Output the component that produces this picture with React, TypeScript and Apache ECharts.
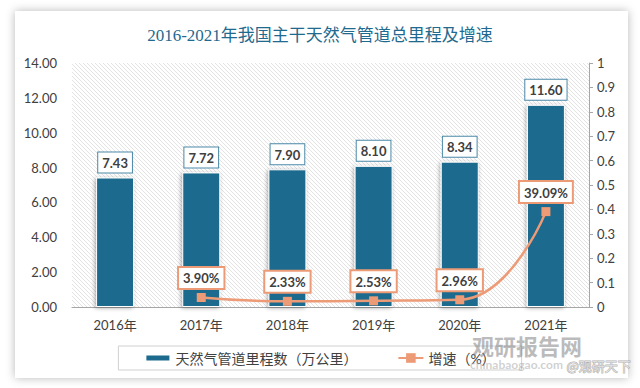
import React, { useEffect, useRef } from "react";
import * as echarts from "echarts";

const years = ["2016年", "2017年", "2018年", "2019年", "2020年", "2021年"];
const mileage = [7.43, 7.72, 7.9, 8.1, 8.34, 11.6];
const growth: (number | null)[] = [null, 0.039, 0.0233, 0.0253, 0.0296, 0.3909];
const barName = "天然气管道里程数（万公里）";
const lineName = "增速（%）";
const titleText = "2016-2021年我国主干天然气管道总里程及增速";

const BAR = "#1C6A8D";
const LINE = "#ED9B76";
const TXT = "#404040";
const FONT = "Lato, 'Noto Sans CJK SC', sans-serif";

function makeHatch() {
  const c = document.createElement("canvas");
  c.width = 4;
  c.height = 4;
  const ctx = c.getContext("2d")!;
  ctx.fillStyle = "#ffffff";
  ctx.fillRect(0, 0, 4, 4);
  ctx.strokeStyle = "#e0e0e0";
  ctx.lineWidth = 0.9;
  for (const k of [-4, 0, 4]) {
    ctx.beginPath();
    ctx.moveTo(k, 0);
    ctx.lineTo(k + 4, 4);
    ctx.stroke();
  }
  return c;
}

export default function App() {
  const ref = useRef<HTMLDivElement>(null);
  useEffect(() => {
    if (!ref.current) return;
    const chart = echarts.init(ref.current, null, { renderer: "svg" });
    const hatch = makeHatch();
    chart.setOption({
      animation: false,
      backgroundColor: "#ffffff",
      textStyle: { fontFamily: FONT },
      title: {
        text: titleText,
        left: "center",
        top: 22,
        textStyle: {
          fontFamily: "'Liberation Serif', 'Noto Sans CJK SC', serif",
          fontSize: 17,
          fontWeight: "normal",
          color: "#1F6A8E",
        },
      },
      graphic: [
        {
          type: "rect",
          z: -10,
          shape: { x: 15, y: 11, width: 613, height: 367 },
          style: { fill: "#ffffff", shadowBlur: 10, shadowColor: "rgba(0,0,0,0.28)" },
          silent: true,
        },
        {
          type: "text",
          z: 100,
          left: 472,
          top: 334,
          style: {
            text: "观研报告网",
            fontSize: 22,
            fontWeight: "bold",
            fill: "rgba(120,120,120,0.5)",
            fontFamily: "'Noto Sans CJK SC', sans-serif",
          },
          silent: true,
        },
        {
          type: "text",
          z: 100,
          left: 470,
          top: 358,
          style: {
            text: "chinabaogao.com",
            fontSize: 12,
            fontWeight: "bold",
            fill: "rgba(150,150,150,0.45)",
            fontFamily: FONT,
          },
          silent: true,
        },
        {
          type: "text",
          z: 100,
          left: 566,
          top: 358,
          style: {
            text: "@观研天下",
            fontSize: 13,
            fill: "rgba(255,255,255,0.6)",
            stroke: "rgba(140,140,140,0.7)",
            lineWidth: 1,
            fontFamily: "'Noto Sans CJK SC', sans-serif",
          },
          silent: true,
        },
      ],
      grid: {
        left: 72,
        right: 51,
        top: 63,
        bottom: 81,
        show: true,
        borderWidth: 0,
        backgroundColor: {
          image: hatch,
          repeat: "repeat",
          imageWidth: 4,
          imageHeight: 4,
        },
      },
      legend: {
        left: "center",
        bottom: 18,
        borderColor: "#d0d0d0",
        borderWidth: 1,
        padding: [5, 26],
        itemGap: 40,
        itemWidth: 25,
        itemHeight: 12,
        textStyle: { fontSize: 14, color: TXT, fontFamily: FONT },
        data: [
          { name: barName, icon: "path://M0,0H25V7H0Z" },
          { name: lineName },
        ],
      },
      xAxis: {
        type: "category",
        data: years,
        axisLine: { show: true, lineStyle: { color: "#a6a6a6", width: 1 } },
        axisTick: { show: false },
        axisLabel: { color: TXT, fontSize: 13, margin: 11, fontFamily: FONT },
        splitLine: { show: false },
      },
      yAxis: [
        {
          type: "value",
          min: 0,
          max: 14,
          interval: 2,
          axisLine: { show: false },
          axisTick: { show: false },
          splitLine: { show: false },
          axisLabel: {
            color: TXT,
            fontSize: 13,
            margin: 15,
            fontFamily: FONT,
            formatter: (v: number) => v.toFixed(2),
          },
        },
        {
          type: "value",
          position: "right",
          min: 0,
          max: 1,
          interval: 0.1,
          axisLine: { show: true, lineStyle: { color: "#a6a6a6", width: 1 } },
          axisTick: { show: true, length: 4, lineStyle: { color: "#a6a6a6" } },
          splitLine: { show: false },
          axisLabel: {
            color: TXT,
            fontSize: 13,
            margin: 8,
            fontFamily: FONT,
            formatter: (v: number) => String(+v.toFixed(1)),
          },
        },
      ],
      series: [
        {
          name: barName,
          type: "bar",
          yAxisIndex: 0,
          data: mileage,
          barWidth: 38,
          itemStyle: {
            color: BAR,
            borderColor: "#ffffff",
            borderWidth: 1,
            shadowBlur: 4,
            shadowColor: "rgba(0,0,0,0.35)",
            shadowOffsetX: -1,
            shadowOffsetY: 1,
          },
          label: {
            show: true,
            position: "top",
            distance: 5,
            formatter: (p: any) => Number(p.value).toFixed(2),
            backgroundColor: "#ffffff",
            borderColor: "#4A88A8",
            borderWidth: 1,
            padding: [4, 4, 3, 4],
            fontSize: 13,
            fontWeight: "bold",
            color: TXT,
            fontFamily: FONT,
          },
        },
        {
          name: lineName,
          type: "line",
          yAxisIndex: 1,
          data: growth,
          smooth: 0.5,
          symbol: "rect",
          symbolSize: 9,
          color: LINE,
          lineStyle: { color: LINE, width: 2.5 },
          itemStyle: { color: LINE },
          label: {
            show: true,
            position: "top",
            distance: 5,
            formatter: (p: any) => (Number(p.value) * 100).toFixed(2) + "%",
            backgroundColor: "#ffffff",
            borderColor: LINE,
            borderWidth: 2,
            padding: [4, 4, 3, 4],
            fontSize: 13,
            fontWeight: "bold",
            color: TXT,
            fontFamily: FONT,
          },
        },
      ],
    });
    return () => chart.dispose();
  }, []);
  return (
    <div
      ref={ref}
      style={{ position: "fixed", left: 0, top: 0, width: 640, height: 388 }}
    />
  );
}
